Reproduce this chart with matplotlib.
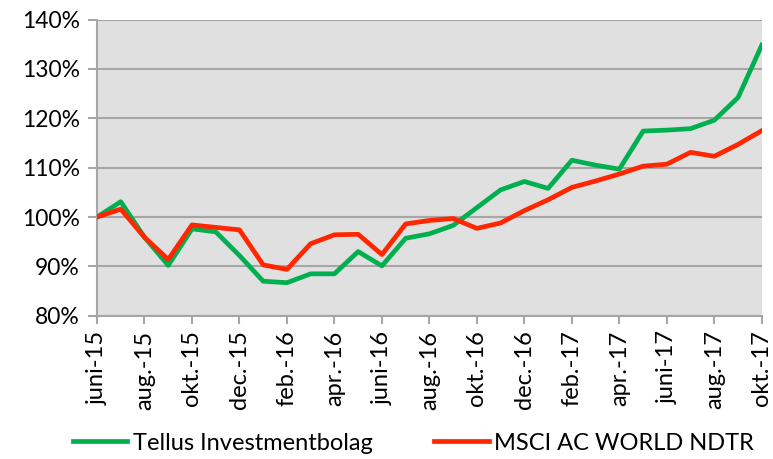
import numpy as np
import matplotlib
matplotlib.use('Agg')
import matplotlib.pyplot as plt
from matplotlib.ticker import FuncFormatter

plt.rcParams['font.family'] = ['Lato', 'DejaVu Sans']

months = ['juni-15', 'juli-15', 'aug.-15', 'sep.-15', 'okt.-15', 'nov.-15', 'dec.-15',
          'jan.-16', 'feb.-16', 'mar.-16', 'apr.-16', 'maj-16', 'juni-16', 'juli-16',
          'aug.-16', 'sep.-16', 'okt.-16', 'nov.-16', 'dec.-16', 'jan.-17', 'feb.-17',
          'mar.-17', 'apr.-17', 'maj-17', 'juni-17', 'juli-17', 'aug.-17', 'sep.-17', 'okt.-17']

tellus = [100, 103.1, 95.9, 90.2, 97.6, 97.0, 92.2, 87.0, 86.7, 88.5, 88.5, 93.0, 90.1,
          95.7, 96.6, 98.3, 101.9, 105.5, 107.2, 105.8, 111.5, 110.5, 109.7, 117.4,
          117.6, 117.9, 119.6, 124.2, 134.8]
msci = [100, 101.6, 95.9, 91.4, 98.4, 97.9, 97.4, 90.3, 89.4, 94.6, 96.4, 96.5, 92.4,
        98.6, 99.3, 99.7, 97.7, 98.8, 101.3, 103.5, 106.0, 107.3, 108.7, 110.3, 110.7,
        113.1, 112.3, 114.7, 117.5]

x = np.arange(len(months))

fig = plt.figure(figsize=(7.73, 4.59), dpi=100)
ax = fig.add_axes([0.1255, 0.312, 0.86, 0.6455])
ax.set_facecolor('#E0E0E0')

l1, = ax.plot(x, tellus, color='#00B050', lw=3.4, label='Tellus Investmentbolag', zorder=3)
l2, = ax.plot(x, msci, color='#FF2600', lw=3.4, label='MSCI AC WORLD NDTR', zorder=3)

ax.set_xlim(0, len(months) - 1)
ax.set_ylim(80, 140)
ax.set_yticks(np.arange(80, 141, 10))
ax.yaxis.set_major_formatter(FuncFormatter(lambda v, p: '%d%%' % v))
ax.set_xticks(x[::2])
ax.set_xticklabels(months[::2], rotation=90)

ax.grid(axis='y', color='#A6A6A6', lw=1.5)
ax.set_axisbelow(True)
for s in ['top', 'right']:
    ax.spines[s].set_visible(False)
for s in ['left', 'bottom']:
    ax.spines[s].set_color('#A6A6A6')
    ax.spines[s].set_linewidth(1.5)
ax.tick_params(axis='y', length=6.5, width=1.5, color='#A6A6A6', labelsize=16.5, pad=6)
ax.tick_params(axis='x', length=5.5, width=1.5, color='#A6A6A6', labelsize=17, pad=5)

fig.legend(handles=[l1, l2], loc='upper center', bbox_to_anchor=(0.535, 0.078), ncol=2,
           frameon=False, fontsize=17, handlelength=2.3, handletextpad=0.25,
           columnspacing=2.6, borderaxespad=0)

fig.savefig('out.png', dpi=100)
